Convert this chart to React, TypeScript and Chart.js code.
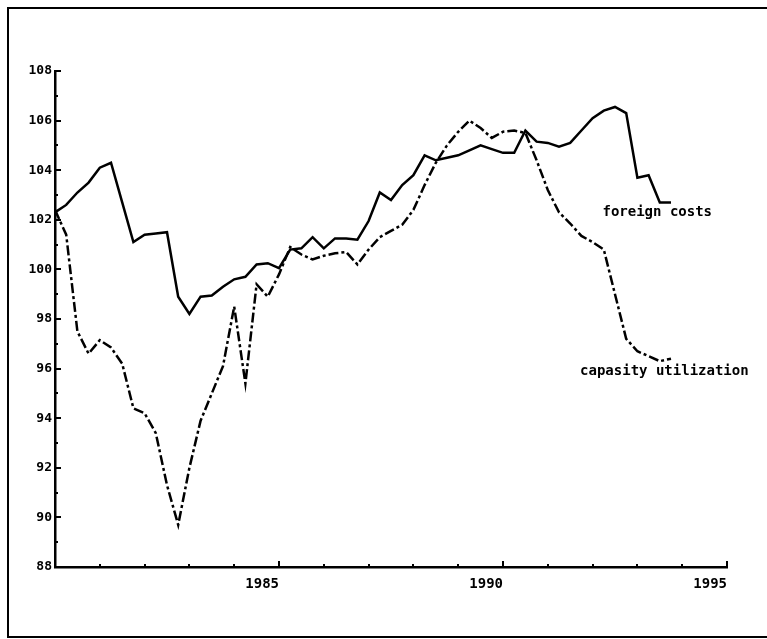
import React, { useEffect, useRef } from "react";
import { Chart, registerables } from "chart.js";

Chart.register(...registerables);

// Quarterly observation times (1980 Q1 ... 1993 Q4)
const periods: number[] = [
  1980.0, 1980.25, 1980.5, 1980.75,
  1981.0, 1981.25, 1981.5, 1981.75,
  1982.0, 1982.25, 1982.5, 1982.75,
  1983.0, 1983.25, 1983.5, 1983.75,
  1984.0, 1984.25, 1984.5, 1984.75,
  1985.0, 1985.25, 1985.5, 1985.75,
  1986.0, 1986.25, 1986.5, 1986.75,
  1987.0, 1987.25, 1987.5, 1987.75,
  1988.0, 1988.25, 1988.5, 1988.75,
  1989.0, 1989.25, 1989.5, 1989.75,
  1990.0, 1990.25, 1990.5, 1990.75,
  1991.0, 1991.25, 1991.5, 1991.75,
  1992.0, 1992.25, 1992.5, 1992.75,
  1993.0, 1993.25, 1993.5, 1993.75,
];

const foreignCosts: number[] = [
  102.3, 102.6, 103.1, 103.5,
  104.1, 104.3, 102.7, 101.1,
  101.4, 101.45, 101.5, 98.9,
  98.2, 98.9, 98.95, 99.3,
  99.6, 99.7, 100.2, 100.25,
  100.05, 100.8, 100.85, 101.3,
  100.85, 101.25, 101.25, 101.2,
  101.95, 103.1, 102.8, 103.4,
  103.8, 104.6, 104.4, 104.5,
  104.6, 104.8, 105.0, 104.85,
  104.7, 104.7, 105.6, 105.15,
  105.1, 104.95, 105.1, 105.6,
  106.1, 106.4, 106.55, 106.3,
  103.7, 103.8, 102.7, 102.7,
];

const capacityUtilization: number[] = [
  102.4, 101.4, 97.5, 96.6,
  97.15, 96.85, 96.2, 94.4,
  94.2, 93.4, 91.3, 89.7,
  92.0, 93.9, 95.0, 96.1,
  98.5, 95.4, 99.4, 98.9,
  99.8, 100.9, 100.6, 100.4,
  100.55, 100.65, 100.7, 100.2,
  100.8, 101.3, 101.55, 101.8,
  102.4, 103.4, 104.3, 105.0,
  105.55, 106.0, 105.7, 105.3,
  105.55, 105.6, 105.5, 104.4,
  103.2, 102.3, 101.85, 101.35,
  101.1, 100.8, 99.0, 97.2,
  96.7, 96.5, 96.3, 96.4,
];

const seriesNames: string[] = ["foreign costs", "capasity utilization"];
// label anchor positions in data units (year, value)
const labelYears: number[] = [1992.22, 1991.72];
const labelValues: number[] = [102.3, 95.9];

const xTickYears: number[] = [
  1980, 1981, 1982, 1983, 1984, 1985, 1986, 1987,
  1988, 1989, 1990, 1991, 1992, 1993, 1994, 1995,
];
const yTickValues: number[] = [
  88, 89, 90, 91, 92, 93, 94, 95, 96, 97, 98,
  99, 100, 101, 102, 103, 104, 105, 106, 107, 108,
];

const FONT = '"DejaVu Sans Mono", monospace';

const decorPlugin = {
  id: "decor",
  afterDraw(chart: any) {
    const ctx = chart.ctx;
    const xs = chart.scales.x;
    const ys = chart.scales.y;
    const area = chart.chartArea;
    ctx.save();
    ctx.strokeStyle = "#000";
    ctx.lineWidth = 2;
    ctx.lineCap = "butt";
    for (const yr of xTickYears) {
      const px = Math.round(xs.getPixelForValue(yr));
      const len = yr % 5 === 0 ? 6 : 3;
      ctx.beginPath();
      ctx.moveTo(px, area.bottom);
      ctx.lineTo(px, area.bottom - len);
      ctx.stroke();
    }
    for (const v of yTickValues) {
      const py = Math.round(ys.getPixelForValue(v));
      const len = v % 2 === 0 ? 6 : 3;
      ctx.beginPath();
      ctx.moveTo(area.left, py);
      ctx.lineTo(area.left + len, py);
      ctx.stroke();
    }
    ctx.fillStyle = "#000";
    ctx.font = `bold 14px ${FONT}`;
    ctx.textBaseline = "middle";
    ctx.textAlign = "left";
    for (let i = 0; i < seriesNames.length; i++) {
      ctx.fillText(
        seriesNames[i],
        xs.getPixelForValue(labelYears[i]),
        ys.getPixelForValue(labelValues[i])
      );
    }
    ctx.restore();
  },
};

export default function App() {
  const canvasRef = useRef<HTMLCanvasElement | null>(null);

  useEffect(() => {
    const canvas = canvasRef.current;
    if (!canvas) return;
    const chart = new Chart(canvas, {
      type: "line",
      data: {
        datasets: [
          {
            label: seriesNames[0],
            data: periods.map((t, i) => ({ x: t, y: foreignCosts[i] })),
            borderColor: "#000",
            borderWidth: 2.5,
            pointRadius: 0,
            tension: 0,
            fill: false,
          },
          {
            label: seriesNames[1],
            data: periods.map((t, i) => ({ x: t, y: capacityUtilization[i] })),
            borderColor: "#000",
            borderWidth: 2.5,
            borderDash: [10, 3, 3, 3],
            pointRadius: 0,
            tension: 0,
            fill: false,
          },
        ],
      },
      options: {
        animation: false,
        responsive: false,
        devicePixelRatio: 1,
        layout: { padding: { left: 0, top: 71, right: 40, bottom: 0 } },
        plugins: {
          legend: { display: false },
          tooltip: { enabled: false },
        },
        scales: {
          x: {
            type: "linear",
            min: 1980,
            max: 1995,
            afterFit: (scale: any) => {
              scale.height = 72;
            },
            grid: { display: false, drawTicks: false },
            border: { display: true, color: "#000", width: 2.5 },
            ticks: {
              stepSize: 5,
              autoSkip: false,
              maxRotation: 0,
              align: "end",
              padding: 9,
              color: "#000",
              font: { family: FONT, size: 14, weight: "bold" },
              callback: (v: any) => (v === 1980 ? "" : String(v)),
            },
          },
          y: {
            type: "linear",
            min: 88,
            max: 108,
            afterFit: (scale: any) => {
              scale.width = 55;
            },
            grid: { display: false, drawTicks: false },
            border: { display: true, color: "#000", width: 2.5 },
            ticks: {
              stepSize: 2,
              autoSkip: false,
              padding: 3,
              color: "#000",
              font: { family: FONT, size: 13, weight: "bold" },
              callback: (v: any) => String(v),
            },
          },
        },
      },
      plugins: [decorPlugin],
    });
    return () => chart.destroy();
  }, []);

  return (
    <div>
      <div
        style={{
          position: "fixed",
          left: 7,
          top: 7,
          width: 800,
          height: 631,
          border: "2.5px solid #000",
          boxSizing: "border-box",
          pointerEvents: "none",
        }}
      />
      <canvas
        ref={canvasRef}
        width={767}
        height={639}
        style={{ position: "fixed", left: 0, top: 0, width: 767, height: 639 }}
      />
    </div>
  );
}
